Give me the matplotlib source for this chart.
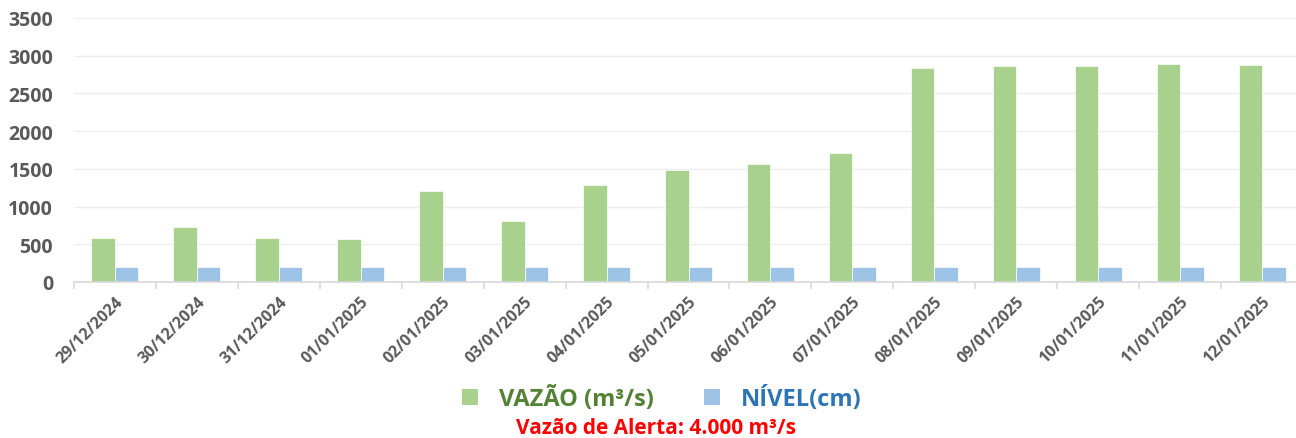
import numpy as np
import matplotlib
matplotlib.use("Agg")
import matplotlib.pyplot as plt
from matplotlib.patches import Patch

# daily readings
datas = ["29/12/2024", "30/12/2024", "31/12/2024", "01/01/2025", "02/01/2025",
         "03/01/2025", "04/01/2025", "05/01/2025", "06/01/2025", "07/01/2025",
         "08/01/2025", "09/01/2025", "10/01/2025", "11/01/2025", "12/01/2025"]
vazao = [585, 725, 580, 570, 1205, 805, 1285, 1480, 1570, 1716,
         2840, 2868, 2868, 2885, 2876]
nivel = [205, 205, 205, 205, 205, 205, 205, 205, 205, 205,
         205, 205, 205, 205, 205]

plt.rcParams['font.family'] = ['Open Sans', 'DejaVu Sans']
plt.rcParams['font.weight'] = 'bold'

verde = '#a9d18e'
azul = '#9dc3e6'

fig = plt.figure(figsize=(12.96, 4.39), dpi=100)
W, H = 1296, 439
ax = fig.add_axes([74 / W, 1 - 283 / H, (1303 - 74) / W, (283 - 19) / H])

x = np.arange(len(datas))
w = 0.287
ax.bar(x - w / 2, vazao, w, color=verde, edgecolor='white', linewidth=0.5, zorder=2)
ax.bar(x + w / 2, nivel, w, color=azul, edgecolor='white', linewidth=0.5, zorder=2)

ax.set_xlim(-0.5, len(datas) - 0.5)
ax.set_ylim(0, 3500)
ax.set_yticks(range(0, 3501, 500))
ax.yaxis.grid(True, color='#eeeeee', linewidth=1, zorder=0)
ax.set_axisbelow(True)

for s in ['top', 'right', 'left']:
    ax.spines[s].set_visible(False)
ax.spines['bottom'].set_color('#d9d9d9')
ax.spines['bottom'].set_linewidth(1.2)

ax.tick_params(axis='y', length=0, labelsize=14, labelcolor='#595959', pad=15)
ax.set_xticks(x)
ax.set_xticklabels(datas, rotation=45, ha='right', rotation_mode='anchor',
                   fontsize=11.5, color='#595959')
ax.tick_params(axis='x', which='major', length=0, pad=8)
ax.set_xticks(np.arange(-0.5, len(datas), 1), minor=True)
ax.tick_params(axis='x', which='minor', length=5, color='#d9d9d9', width=1.2)

handles = [Patch(facecolor=verde), Patch(facecolor=azul)]
leg = fig.legend(handles, ['VAZÃO (m³/s)', 'NÍVEL(cm)'], ncol=2,
                 loc='center', bbox_to_anchor=(662 / W, 1 - 400 / H),
                 frameon=False, fontsize=17, handlelength=0.68, handleheight=0.68,
                 handletextpad=0.9, columnspacing=2.1,
                 labelcolor=['#548235', '#2e75b6'])

fig.text(656 / W, 1 - 429 / H, 'Vazão de Alerta: 4.000 m³/s', color='#ff0000',
         fontsize=15, fontweight='bold', ha='center', va='center')

fig.savefig('out.png', dpi=100)
